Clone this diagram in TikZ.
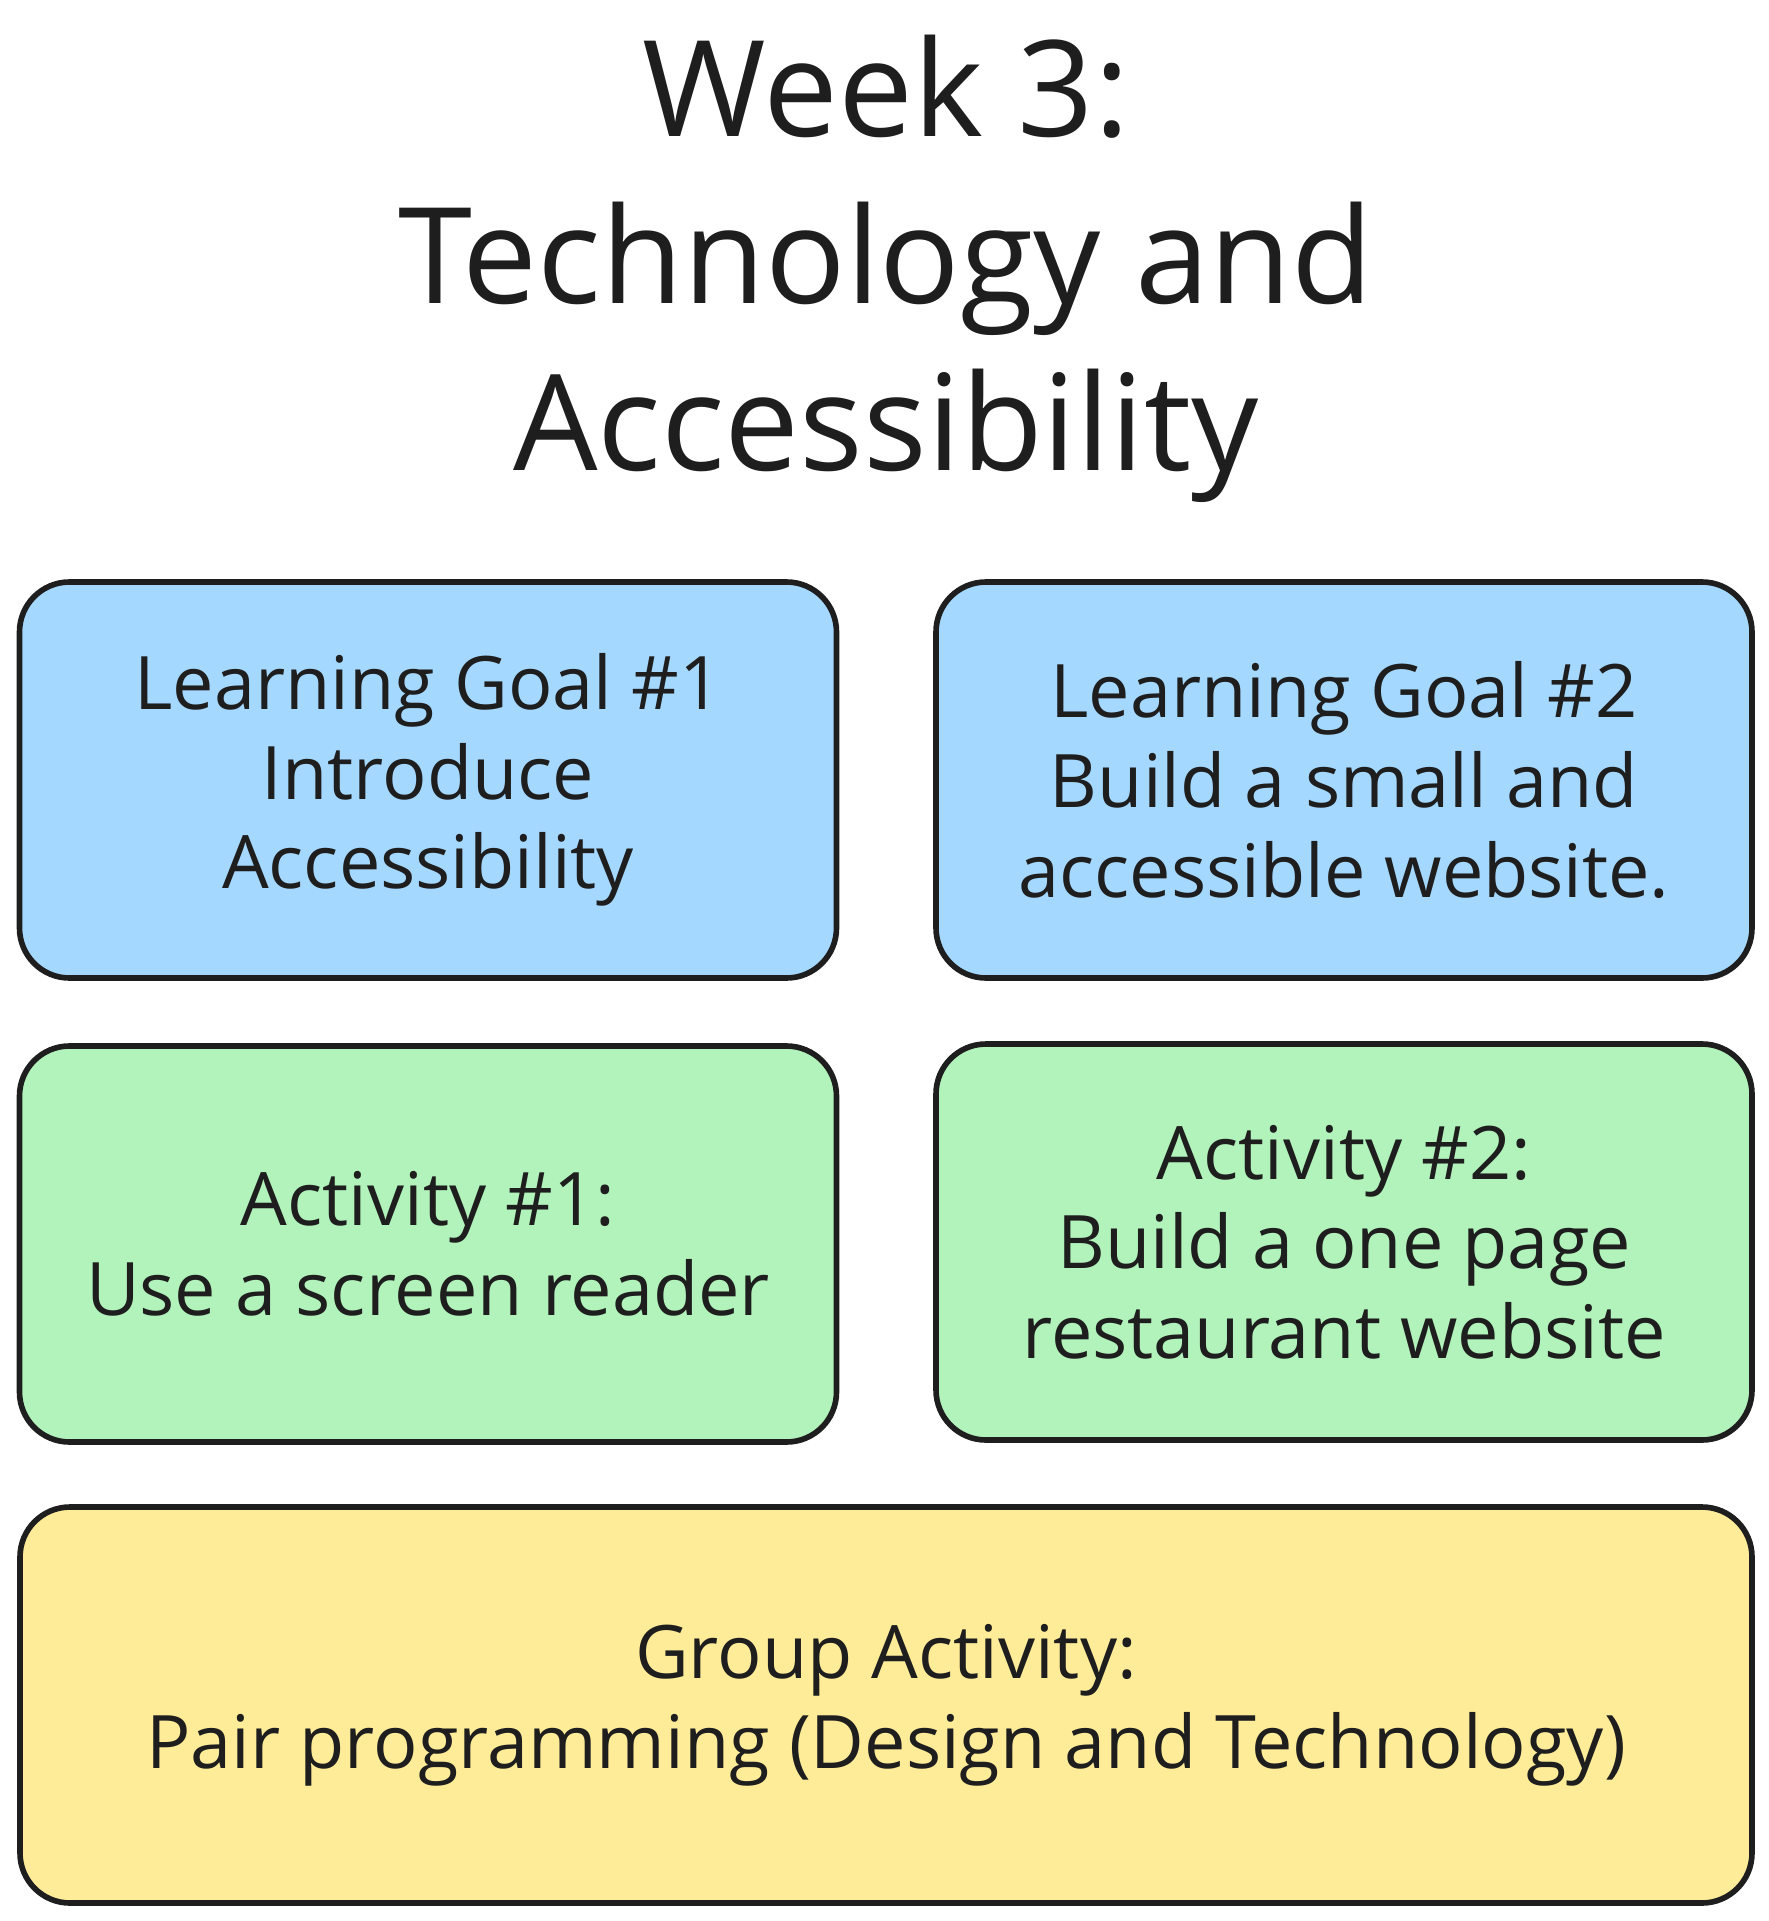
\documentclass[tikz,border=0pt]{standalone}
\usepackage{fontspec}
\setmainfont{Open Sans}
\usepackage{xcolor}
\usepackage{tikz}
\definecolor{ink}{HTML}{1E1E1E}
\definecolor{goalblue}{HTML}{A5D8FF}
\definecolor{actgreen}{HTML}{B2F2BB}
\definecolor{grpyellow}{HTML}{FFEC99}

\begin{document}
\begin{tikzpicture}[x=0.1mm, y=0.1mm]
\tikzstyle{every node}+=[inner sep=0pt, text=ink]
\tikzstyle{card}=[draw=ink, line width=1.6pt, rounded corners=5mm, align=center, minimum height=3.96cm, font=\fontsize{21}{25.5}\selectfont]
\useasboundingbox (0,0) rectangle (1768,-1921);
\node [align=center, font=\fontsize{38}{47.6}\selectfont] (title) at (886,-269) {Week 3:\\Technology and\\Accessibility};
\node [card, fill=goalblue, minimum width=8.17cm] (goal1) at (428,-780) {Learning Goal \#1\\Introduce\\Accessibility};
\node [card, fill=goalblue, minimum width=8.16cm] (goal2) at (1344,-780) {Learning Goal \#2\\Build a small and\\accessible website.};
\node [card, fill=actgreen, minimum width=8.17cm] (act1) at (428,-1244) {Activity \#1:\\Use a screen reader};
\node [card, fill=actgreen, minimum width=8.16cm] (act2) at (1344,-1242) {Activity \#2:\\Build a one page\\restaurant website};
\node [card, fill=grpyellow, minimum width=17.32cm] (group) at (886,-1705) {Group Activity:\\Pair programming (Design and Technology)};
\end{tikzpicture}
\end{document}
